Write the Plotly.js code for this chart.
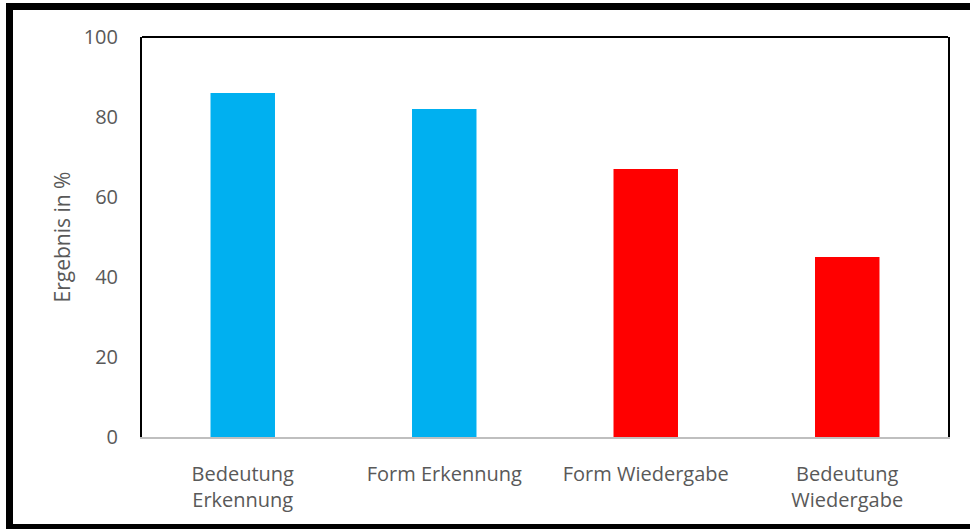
<!DOCTYPE html>
<html>
<head>
<meta charset="utf-8">
<script src="https://cdn.plot.ly/plotly-3.0.1.min.js"></script>
<style>
html, body { margin:0; padding:0; width:970px; height:529px; overflow:hidden; background:#fff; }
#chart { position:absolute; left:0; top:0; width:970px; height:529px; }
#frame { position:absolute; left:6px; top:3px; width:980px; height:528px; box-sizing:border-box; border:7px solid #000; pointer-events:none; }
</style>
</head>
<body>
<div id="chart"></div>
<div id="frame"></div>
<script>
const categories = ["Bedeutung<br>Erkennung", "Form Erkennung", "Form Wiedergabe", "Bedeutung<br>Wiedergabe"];
const values = [86, 82, 67, 45];
const barColors = ["#00B0F0", "#00B0F0", "#FF0000", "#FF0000"];
const yTicks = [0, 20, 40, 60, 80, 100];

const textColor = "#595959";
const fontFam = "'Open Sans', 'DejaVu Sans', sans-serif";

Plotly.newPlot("chart", [{
  type: "bar",
  x: categories,
  y: values,
  marker: { color: barColors, line: { width: 0 } },
  hoverinfo: "none"
}], {
  width: 970,
  height: 529,
  margin: { l: 142, r: 22, t: 37, b: 92 },
  paper_bgcolor: "#fff",
  plot_bgcolor: "#fff",
  bargap: 0.68,
  showlegend: false,
  font: { family: fontFam, color: textColor },
  xaxis: {
    type: "category",
    showline: true,
    linecolor: "#bfbfbf",
    linewidth: 2,
    showgrid: false,
    zeroline: false,
    ticks: "",
    tickfont: { family: fontFam, size: 20, color: textColor },
    ticklabelstandoff: 18
  },
  yaxis: {
    range: [0, 100],
    tickvals: yTicks,
    ticktext: yTicks.map(String),
    showline: true,
    mirror: true,
    linecolor: "#000",
    linewidth: 2,
    showgrid: false,
    zeroline: false,
    ticks: "",
    ticklabelstandoff: 18,
    tickfont: { family: fontFam, size: 20, color: textColor },
    title: { text: "Ergebnis in %", font: { family: fontFam, size: 21, color: textColor }, standoff: 7 }
  },
  shapes: [{
    type: "line", xref: "paper", yref: "paper", x0: 0, x1: 1, y0: 1, y1: 1,
    line: { color: "#000", width: 2 }
  }]
}, { displayModeBar: false, staticPlot: true });
</script>
</body>
</html>
